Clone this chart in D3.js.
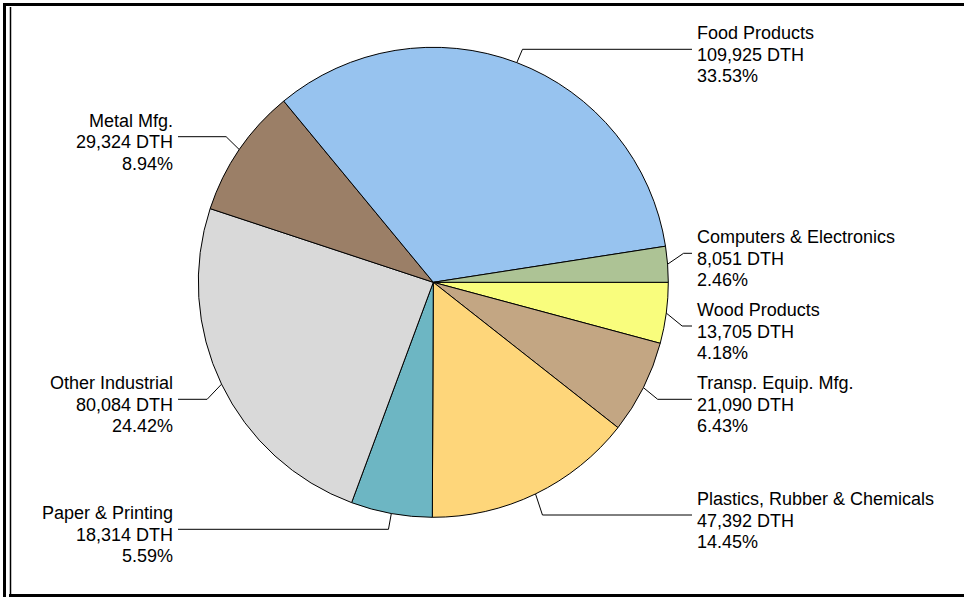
<!DOCTYPE html>
<html>
<head>
<meta charset="utf-8">
<script src="https://cdn.jsdelivr.net/npm/d3@7/dist/d3.min.js"></script>
<style>
  html, body { margin: 0; padding: 0; background: #fff; }
  svg { display: block; }
  text { font-family: "Liberation Sans", Arial, sans-serif; font-size: 18px; fill: #000; }
</style>
</head>
<body>
<svg id="chart" width="964" height="597"></svg>
<script>
// ---- data ----
const categories = ["Wood Products", "Transp. Equip. Mfg.", "Plastics, Rubber & Chemicals",
  "Paper & Printing", "Other Industrial", "Metal Mfg.", "Food Products", "Computers & Electronics"];
const values = [13705, 21090, 47392, 18314, 80084, 29324, 109925, 8051];
const colors = ["#f9fd7d", "#c3a683", "#fed67a", "#6db6c3", "#d9d9d9", "#9b7f67", "#97c3ef", "#adc395"];
// label layout (vertical position of each leader's horizontal run)
const labelLeaderY = [326, 399.3, 515, 529.3, 399.3, 136.7, 49.3, 253.3];

// ---- layout ----
const W = 964, H = 597;
const cx = 433.3, cy = 282.3, r = 235;
const svg = d3.select("#chart");

// frame
svg.append("rect").attr("x", 3).attr("y", 3).attr("width", W - 3).attr("height", 3).attr("fill", "#000");
svg.append("rect").attr("x", 3).attr("y", 3).attr("width", 3).attr("height", H - 3).attr("fill", "#000");
svg.append("rect").attr("x", 9).attr("y", 594).attr("width", W - 9).attr("height", 3).attr("fill", "#000");
svg.append("line").attr("x1", 10.5).attr("x2", 10.5).attr("y1", 7).attr("y2", 594)
  .attr("stroke", "#000").attr("stroke-width", 1.5);

const data = categories.map((c, i) => ({ name: c, value: values[i], color: colors[i], ly: labelLeaderY[i] }));
const total = d3.sum(values);
const pie = d3.pie().value(d => d.value).sort(null)
  .startAngle(Math.PI / 2).endAngle(Math.PI / 2 + 2 * Math.PI);
const arcs = pie(data);
const arc = d3.arc().innerRadius(0).outerRadius(r);

const g = svg.append("g").attr("transform", `translate(${cx},${cy})`);
g.selectAll("path.slice").data(arcs).join("path")
  .attr("class", "slice")
  .attr("d", arc)
  .attr("fill", d => d.data.color)
  .attr("stroke", "#000")
  .attr("stroke-width", 1)
  .attr("stroke-linejoin", "round");

const fmtNum = d3.format(",");
const fmtPct = d3.format(".2%");
const pt = (a, R) => [R * Math.sin(a), -R * Math.cos(a)];

const lab = svg.append("g");
arcs.forEach(d => {
  const mid = (d.startAngle + d.endAngle) / 2;
  const [ax, ay] = pt(mid, r);
  const [ex] = pt(mid, r + 16);
  const right = Math.sin(mid) > 0;
  const ly = d.data.ly;
  const x0 = cx + ax, y0 = cy + ay;
  const x1 = cx + ex, y1 = ly;
  const x2 = right ? 692 : 178;
  lab.append("polyline")
    .attr("points", `${x0},${y0} ${x1},${y1} ${x2},${y1}`)
    .attr("fill", "none").attr("stroke", "#000").attr("stroke-width", 1);
  const tx = right ? 697 : 173;
  const t = lab.append("text")
    .attr("x", tx).attr("y", ly - 10)
    .attr("text-anchor", right ? "start" : "end");
  [d.data.name, fmtNum(d.data.value) + " DTH", fmtPct(d.data.value / total)].forEach((s, i) => {
    t.append("tspan").attr("x", tx).attr("dy", i === 0 ? 0 : 21.5).text(s);
  });
});
</script>
</body>
</html>
